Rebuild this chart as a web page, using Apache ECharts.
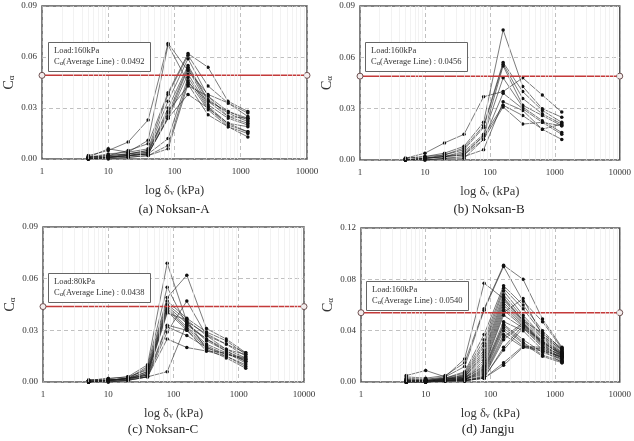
<!DOCTYPE html>
<html>
<head>
<meta charset="utf-8">
<script src="https://cdn.jsdelivr.net/npm/echarts@6/dist/echarts.min.js"></script>
<style>
  html, body { margin: 0; padding: 0; background: #fff; }
  #chart { width: 634px; height: 441px; }
</style>
</head>
<body>
<div id="chart"></div>
<script>
"use strict";

// 荷重段 (kPa)
const XS = [5, 10, 20, 40, 80, 160, 320, 640, 1280];

// 主刻度之间的次网格线 (log 轴 2..9 每十倍)
const MINOR_X = [2, 3, 4, 5, 6, 7, 8, 9, 20, 30, 40, 50, 60, 70, 80, 90,
  200, 300, 400, 500, 600, 700, 800, 900, 2000, 3000, 4000, 5000, 6000, 7000, 8000, 9000];

// (a) Noksan-A
const NOKSAN_A = [
  [0.002, 0.005, 0.010, 0.023, 0.068, 0.052, 0.038, 0.033, 0.027],
  [0.001, 0.003, 0.004, 0.011, 0.067, 0.045, 0.034, 0.028, 0.024],
  [0.001, 0.002, 0.005, 0.009, 0.039, 0.062, 0.054, 0.034, 0.028],
  [0.001, 0.006, 0.004, 0.006, 0.038, 0.061, 0.043, 0.033, 0.025],
  [0.001, 0.002, 0.003, 0.005, 0.034, 0.059, 0.037, 0.028, 0.023],
  [0.000, 0.001, 0.003, 0.004, 0.030, 0.055, 0.035, 0.027, 0.022],
  [0.001, 0.001, 0.002, 0.004, 0.027, 0.054, 0.034, 0.025, 0.021],
  [0.000, 0.001, 0.002, 0.003, 0.025, 0.053, 0.032, 0.024, 0.020],
  [0.001, 0.001, 0.002, 0.003, 0.024, 0.050, 0.031, 0.021, 0.019],
  [0.000, 0.001, 0.002, 0.003, 0.012, 0.048, 0.030, 0.020, 0.016],
  [0.000, 0.001, 0.001, 0.002, 0.008, 0.046, 0.029, 0.019, 0.015],
  [0.000, 0.000, 0.001, 0.002, 0.006, 0.044, 0.026, 0.019, 0.013],
  [0.001, 0.002, 0.003, 0.005, 0.028, 0.043, 0.037, 0.025, 0.024],
  [0.000, 0.001, 0.002, 0.003, 0.024, 0.038, 0.030, 0.021, 0.016],
];

// (b) Noksan-B
const NOKSAN_B = [
  [0.001, 0.004, 0.010, 0.015, 0.037, 0.040, 0.048, 0.038, 0.028],
  [0.001, 0.002, 0.004, 0.008, 0.022, 0.076, 0.043, 0.030, 0.025],
  [0.001, 0.002, 0.003, 0.007, 0.020, 0.057, 0.040, 0.029, 0.022],
  [0.000, 0.001, 0.003, 0.006, 0.019, 0.056, 0.036, 0.027, 0.021],
  [0.000, 0.001, 0.002, 0.005, 0.015, 0.055, 0.032, 0.026, 0.020],
  [0.000, 0.001, 0.002, 0.003, 0.014, 0.048, 0.031, 0.023, 0.016],
  [0.000, 0.001, 0.002, 0.003, 0.012, 0.039, 0.030, 0.022, 0.015],
  [0.000, 0.000, 0.001, 0.002, 0.006, 0.034, 0.029, 0.018, 0.012],
  [0.000, 0.001, 0.002, 0.004, 0.014, 0.032, 0.026, 0.018, 0.021],
  [0.000, 0.000, 0.001, 0.001, 0.012, 0.031, 0.021, 0.022, 0.020],
];

// (c) Noksan-C
const NOKSAN_C = [
  [0.001, 0.002, 0.003, 0.010, 0.069, 0.035, 0.028, 0.022, 0.015],
  [0.001, 0.001, 0.002, 0.009, 0.055, 0.033, 0.025, 0.018, 0.013],
  [0.000, 0.001, 0.002, 0.008, 0.049, 0.062, 0.031, 0.025, 0.017],
  [0.001, 0.002, 0.003, 0.007, 0.047, 0.037, 0.029, 0.024, 0.016],
  [0.000, 0.001, 0.002, 0.006, 0.045, 0.036, 0.027, 0.019, 0.014],
  [0.001, 0.001, 0.002, 0.006, 0.044, 0.034, 0.024, 0.018, 0.012],
  [0.000, 0.001, 0.002, 0.005, 0.043, 0.032, 0.022, 0.017, 0.011],
  [0.000, 0.001, 0.001, 0.005, 0.042, 0.031, 0.021, 0.016, 0.013],
  [0.000, 0.001, 0.002, 0.004, 0.041, 0.030, 0.020, 0.015, 0.009],
  [0.001, 0.001, 0.002, 0.004, 0.040, 0.036, 0.019, 0.014, 0.008],
  [0.000, 0.001, 0.002, 0.004, 0.033, 0.030, 0.018, 0.017, 0.012],
  [0.000, 0.001, 0.002, 0.003, 0.032, 0.027, 0.020, 0.016, 0.014],
  [0.000, 0.000, 0.001, 0.003, 0.029, 0.047, 0.027, 0.022, 0.017],
  [0.000, 0.001, 0.001, 0.003, 0.025, 0.020, 0.018, 0.015, 0.010],
  [0.000, 0.000, 0.001, 0.003, 0.006, 0.034, 0.025, 0.019, 0.016],
];

// (d) Jangju
const JANGJU = [
  [0.005, 0.009, 0.004, 0.018, 0.077, 0.065, 0.048, 0.038, 0.026],
  [0.004, 0.003, 0.005, 0.015, 0.057, 0.091, 0.080, 0.049, 0.027],
  [0.003, 0.002, 0.004, 0.012, 0.056, 0.090, 0.063, 0.047, 0.026],
  [0.002, 0.002, 0.003, 0.008, 0.037, 0.075, 0.060, 0.040, 0.025],
  [0.002, 0.001, 0.003, 0.007, 0.033, 0.073, 0.057, 0.038, 0.024],
  [0.001, 0.001, 0.002, 0.006, 0.030, 0.071, 0.052, 0.036, 0.023],
  [0.001, 0.001, 0.003, 0.005, 0.028, 0.068, 0.050, 0.035, 0.022],
  [0.001, 0.001, 0.002, 0.005, 0.025, 0.066, 0.048, 0.034, 0.021],
  [0.000, 0.001, 0.002, 0.004, 0.023, 0.064, 0.047, 0.032, 0.020],
  [0.001, 0.000, 0.002, 0.004, 0.021, 0.062, 0.046, 0.031, 0.022],
  [0.000, 0.001, 0.002, 0.004, 0.019, 0.060, 0.045, 0.030, 0.019],
  [0.001, 0.001, 0.001, 0.003, 0.017, 0.058, 0.044, 0.029, 0.018],
  [0.000, 0.000, 0.002, 0.003, 0.015, 0.056, 0.043, 0.028, 0.017],
  [0.000, 0.001, 0.001, 0.003, 0.013, 0.054, 0.065, 0.036, 0.025],
  [0.001, 0.000, 0.002, 0.003, 0.012, 0.052, 0.042, 0.027, 0.016],
  [0.000, 0.001, 0.001, 0.002, 0.011, 0.047, 0.040, 0.025, 0.015],
  [0.000, 0.000, 0.001, 0.002, 0.010, 0.045, 0.033, 0.023, 0.018],
  [0.000, 0.001, 0.001, 0.002, 0.009, 0.044, 0.031, 0.021, 0.016],
  [0.000, 0.000, 0.001, 0.002, 0.008, 0.042, 0.030, 0.020, 0.015],
  [0.000, 0.001, 0.001, 0.002, 0.007, 0.040, 0.028, 0.025, 0.019],
  [0.000, 0.000, 0.001, 0.002, 0.006, 0.037, 0.027, 0.024, 0.020],
  [0.000, 0.000, 0.001, 0.001, 0.005, 0.035, 0.046, 0.031, 0.021],
  [0.000, 0.000, 0.001, 0.001, 0.004, 0.033, 0.045, 0.030, 0.022],
  [0.000, 0.000, 0.001, 0.001, 0.003, 0.027, 0.044, 0.029, 0.020],
  [0.000, 0.000, 0.001, 0.001, 0.004, 0.025, 0.042, 0.032, 0.023],
  [0.000, 0.000, 0.001, 0.001, 0.003, 0.015, 0.028, 0.027, 0.021],
  [0.000, 0.000, 0.001, 0.001, 0.003, 0.013, 0.027, 0.026, 0.019],
];

const DATASETS = [NOKSAN_A, NOKSAN_B, NOKSAN_C, JANGJU];
const CAPTIONS = ["(a) Noksan-A", "(b) Noksan-B", "(c) Noksan-C", "(d) Jangju"];
const LOADS = ["Load:160kPa", "Load:160kPa", "Load:80kPa", "Load:160kPa"];
const AVG_TEXT = ["0.0492", "0.0456", "0.0438", "0.0540"];
// 红线在图中的位置
const AVG_LINE = [0.0492, 0.049, 0.0438, 0.054];
const Y_MAX = [0.09, 0.09, 0.09, 0.12];
const Y_STEP = [0.03, 0.03, 0.03, 0.04];

// ── 版面 ──
const GRIDS = [
  { left: 42, top: 6, width: 265, height: 153 },
  { left: 360, top: 6, width: 262, height: 154 },
  { left: 43, top: 227, width: 261, height: 155 },
  { left: 361, top: 228, width: 259, height: 154 },
];
const BOXES = [[48, 42], [365, 42], [48, 273], [366, 281]];
const CAPTION_POS = [[174, 203], [489, 203], [163, 423], [488, 423]];

const FONT = "Liberation Serif";
const INK = "#333";
const TXT = { fontFamily: FONT, color: INK };

const grid = [], xAxis = [], yAxis = [], series = [], title = [];

DATASETS.forEach((rows, i) => {
  grid.push({ ...GRIDS[i], show: true, borderColor: "#555", borderWidth: 1.5, backgroundColor: "#fff" });

  xAxis.push({
    type: "log", logBase: 10, gridIndex: i, min: 1, max: 10000,
    axisLine: { show: false }, axisTick: { show: false },
    axisLabel: { ...TXT, fontSize: 9, margin: 8, formatter: v => String(v) },
    splitLine: { show: true, lineStyle: { color: "#b0b0b0", type: [4, 3], width: 0.8 } },
    name: "{n|log δ}{s|v}{n| (kPa)}", nameLocation: "middle", nameGap: 25,
    nameTextStyle: {
      ...TXT, fontSize: 12,
      rich: { n: { ...TXT, fontSize: 12.5 }, s: { ...TXT, fontSize: 8, padding: [5, 0, 0, 0] } },
    },
  });

  yAxis.push({
    type: "value", gridIndex: i, min: 0, max: Y_MAX[i], interval: Y_STEP[i],
    axisLine: { show: false }, axisTick: { show: false },
    axisLabel: { ...TXT, fontSize: 9, margin: 5, formatter: v => v.toFixed(2) },
    splitLine: { show: true, lineStyle: { color: "#b0b0b0", type: [4, 3], width: 0.8 } },
    name: "{n|C}{s|α}", nameLocation: "middle", nameRotate: 90, nameGap: 26,
    nameTextStyle: {
      ...TXT, fontSize: 13,
      rich: { n: { ...TXT, fontSize: 14 }, s: { ...TXT, fontSize: 9, padding: [5, 0, 0, 0] } },
    },
  });

  // 次网格线
  series.push({
    type: "line", xAxisIndex: i, yAxisIndex: i, data: [], silent: true, z: 1,
    markLine: {
      silent: true, symbol: "none", label: { show: false }, animation: false,
      lineStyle: { color: "#ececec", type: "solid", width: 0.7 },
      data: MINOR_X.map(v => ({ xAxis: v })),
    },
  });

  rows.forEach(r => {
    series.push({
      type: "line", xAxisIndex: i, yAxisIndex: i, silent: true, z: 3,
      data: XS.map((x, k) => [x, r[k]]),
      symbol: "circle", symbolSize: 3.5,
      lineStyle: { color: "#222", width: 0.6 },
      itemStyle: { color: "#111" },
    });
  });

  // 平均线
  series.push({
    type: "line", xAxisIndex: i, yAxisIndex: i, silent: true, z: 4,
    data: [[1, AVG_LINE[i]], [10000, AVG_LINE[i]]],
    symbol: "circle", symbolSize: 6,
    lineStyle: { color: "#c43a3a", width: 1.5 },
    itemStyle: { color: "#f4eded", borderColor: "#6e5050", borderWidth: 1 },
  });

  title.push({
    text: "{n|" + LOADS[i] + "}\n{n|C}{s|α}{n|(Average Line) : " + AVG_TEXT[i] + "}",
    left: BOXES[i][0], top: BOXES[i][1],
    padding: [4, 6, 4, 6], borderColor: "#666", borderWidth: 1, backgroundColor: "#fff",
    textStyle: {
      ...TXT, fontSize: 8.5, fontWeight: "normal", lineHeight: 10.5,
      rich: {
        n: { ...TXT, fontSize: 8.5, lineHeight: 10.5 },
        s: { ...TXT, fontSize: 6.5, padding: [4, 0, 0, 0] },
      },
    },
    z: 10,
  });

  title.push({
    text: CAPTIONS[i], left: CAPTION_POS[i][0], top: CAPTION_POS[i][1], textAlign: "center",
    padding: 0,
    textStyle: { fontFamily: FONT, fontSize: 13, fontWeight: "normal", color: "#222" },
  });
});

const chart = echarts.init(document.getElementById("chart"));
chart.setOption({
  animation: false,
  textStyle: { fontFamily: FONT },
  title, grid, xAxis, yAxis, series,
});
</script>
</body>
</html>
